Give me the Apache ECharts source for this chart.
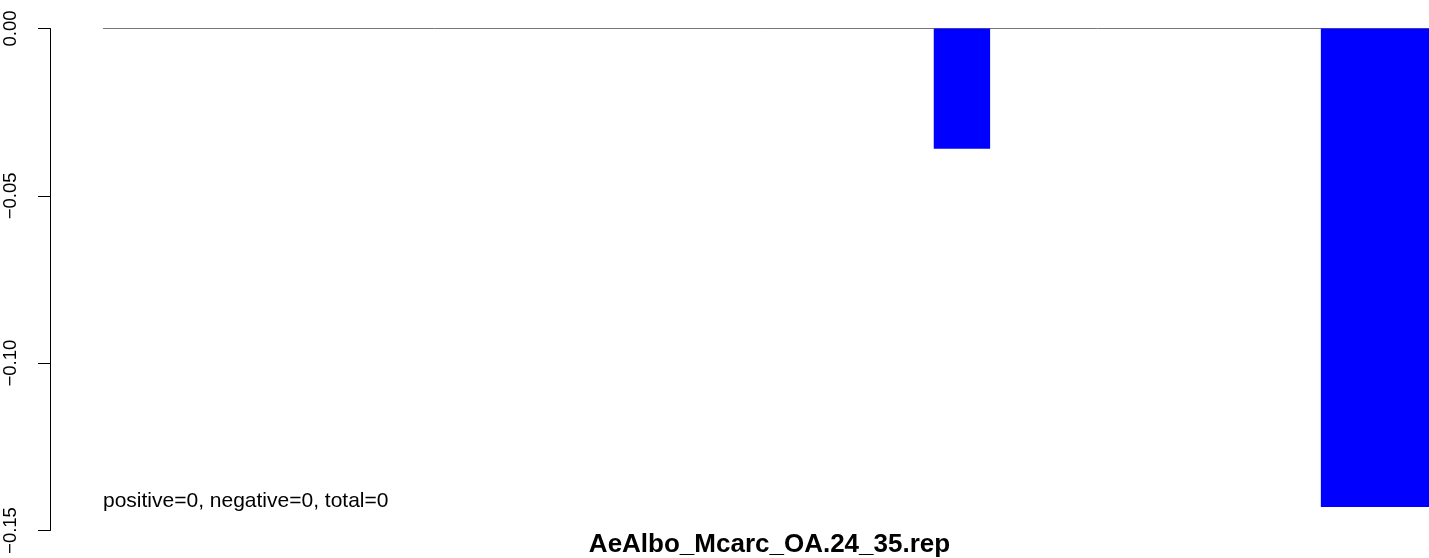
<!DOCTYPE html>
<html>
<head>
<meta charset="utf-8">
<script src="https://cdn.jsdelivr.net/npm/echarts@6/dist/echarts.min.js"></script>
<style>
html,body{margin:0;padding:0;background:#fff;}
#chart{width:1429px;height:558px;}
</style>
</head>
<body>
<div id="chart"></div>
<script>
// Data (x positions in abstract plot units; visible window 0..96.9)
var barStart = [62.1, 89.3];
var barEnd = [66.06, 99.5];
var barValue = [-0.0359, -0.1430];
var zeroLineX = [3.72, 96.9];
var yTicks = [-0.15, -0.10, -0.05, 0.00];
var titleText = 'AeAlbo_Mcarc_OA.24_35.rep';
var noteText = 'positive=0, negative=0, total=0';

var FONT = "'Liberation Sans', Arial, Helvetica, sans-serif";

var barData = barStart.map(function (s, i) { return [s, barEnd[i], barValue[i]]; });

var chart = echarts.init(document.getElementById('chart'), null, {renderer: 'canvas'});
chart.setOption({
  animation: false,
  backgroundColor: '#ffffff',
  grid: {left: 50, right: 0, top: 28.5, bottom: 27.5, containLabel: false},
  xAxis: {
    type: 'value', min: 0, max: 96.9, show: false
  },
  yAxis: {
    type: 'value', min: yTicks[0], max: yTicks[yTicks.length - 1], interval: 0.05,
    axisLine: {show: true, lineStyle: {color: '#000', width: 1}},
    axisTick: {show: true, length: 12, lineStyle: {color: '#000', width: 1}},
    splitLine: {show: false},
    axisLabel: {
      rotate: 90, margin: 30, color: '#000', fontSize: 18.5, fontFamily: FONT,
      formatter: function (v) { return v.toFixed(2).replace('-', '\u2212'); }
    }
  },
  series: [
    {
      type: 'line',
      data: [[zeroLineX[0], 0], [zeroLineX[1], 0]],
      symbol: 'none',
      lineStyle: {color: '#777777', width: 1},
      silent: true,
      z: 1
    },
    {
      type: 'custom',
      data: barData,
      clip: false,
      encode: {x: [0, 1], y: 2},
      renderItem: function (params, api) {
        var p0 = api.coord([api.value(0), 0]);
        var p1 = api.coord([api.value(1), api.value(2)]);
        return {
          type: 'rect',
          shape: {x: p0[0], y: p0[1], width: p1[0] - p0[0], height: p1[1] - p0[1]},
          style: {fill: '#0000ff'}
        };
      },
      z: 2
    }
  ],
  graphic: [
    {
      type: 'text', left: 103, top: 491,
      style: {text: noteText, font: "21px " + FONT, fill: '#000'}
    },
    {
      type: 'text', x: 769.5, y: 545,
      style: {text: titleText, font: "bold 26px " + FONT, fill: '#000', textAlign: 'center', textVerticalAlign: 'middle'}
    }
  ]
});
</script>
</body>
</html>
